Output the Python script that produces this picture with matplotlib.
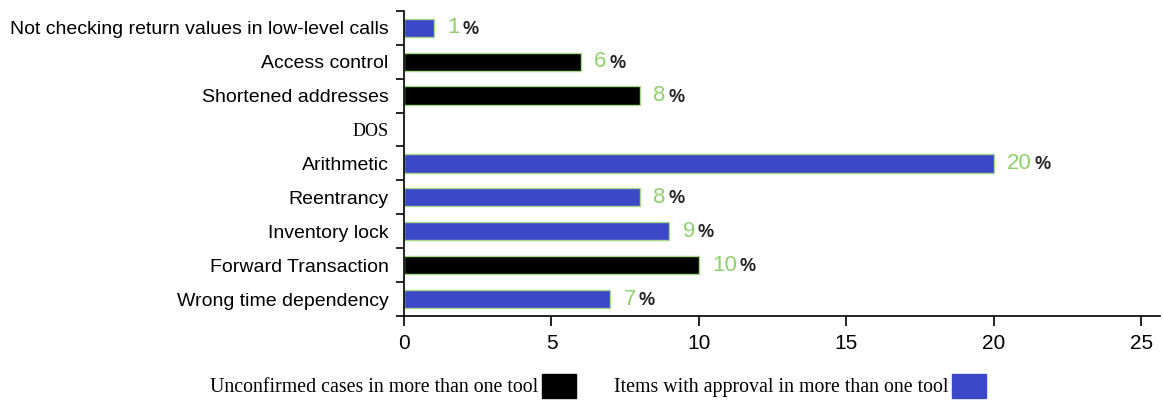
import matplotlib.pyplot as plt
from matplotlib.patches import Patch

# Data (top to bottom as shown)
categories = [
    "Not checking return values in low-level calls",
    "Access control",
    "Shortened addresses",
    "DOS",
    "Arithmetic",
    "Reentrancy",
    "Inventory lock",
    "Forward Transaction",
    "Wrong time dependency",
]
unconfirmed = [0, 6, 8, 0, 0, 0, 0, 10, 0]
approved = [1, 0, 0, 0, 20, 8, 9, 0, 7]

legend_labels = ["Unconfirmed cases in more than one tool",
                 "Items with approval in more than one tool"]
colors = ["#000000", "#3d48c9"]
edge = "#a8d88a"
green = "#8fd16b"

fig = plt.figure(figsize=(11.63, 4.03), dpi=100)
ax = fig.add_axes([0.3474, 0.216, 0.650, 0.757])

n = len(categories)
ypos = list(range(n - 1, -1, -1))

for vals, col in zip([unconfirmed, approved], colors):
    for y, v in zip(ypos, vals):
        if v > 0:
            ax.barh(y, v, height=0.54, color=col, edgecolor=edge, linewidth=1)
            t = ax.text(v + 0.45, y, str(v), color=green, fontsize=16,
                        va="center", ha="left", family="Liberation Sans")
            ax.annotate("%", xy=(1, 0.5), xycoords=t, xytext=(2, -1),
                        textcoords="offset points", va="center", ha="left",
                        fontsize=13, fontweight="bold", color="#222222",
                        family="Liberation Sans")

ax.set_xlim(0, 25.63)
ax.set_ylim(-0.5, n - 0.5)
ax.set_xticks([0, 5, 10, 15, 20, 25])
ax.tick_params(axis="x", length=7, width=1.2, labelsize=15, pad=6)
for lbl in ax.get_xticklabels():
    lbl.set_family("Liberation Sans")

# category labels, separators as ticks
ax.set_yticks(ypos)
ax.set_yticklabels(categories, fontsize=14, family="Liberation Sans")
ax.get_yticklabels()[3].set_family("Liberation Serif")
ax.get_yticklabels()[3].set_fontsize(13)
ax.tick_params(axis="y", length=0, pad=11)
ax.set_yticks([y + 0.5 for y in range(-1, n)], minor=True)
ax.tick_params(axis="y", which="minor", length=6, width=1.2)

for s in ["top", "right"]:
    ax.spines[s].set_visible(False)
ax.spines["left"].set_linewidth(1.2)
ax.spines["bottom"].set_linewidth(1.2)

handles = [Patch(facecolor=c, edgecolor=c) for c in colors]
fig.legend(handles, legend_labels, loc="center", bbox_to_anchor=(0.514, 0.043),
           ncol=2, frameon=False, markerfirst=False, handlelength=1.7,
           handleheight=1.5, columnspacing=1.9, handletextpad=0.2,
           prop={"family": "Liberation Serif", "size": 14.3})

fig.savefig("out.png", dpi=100)
